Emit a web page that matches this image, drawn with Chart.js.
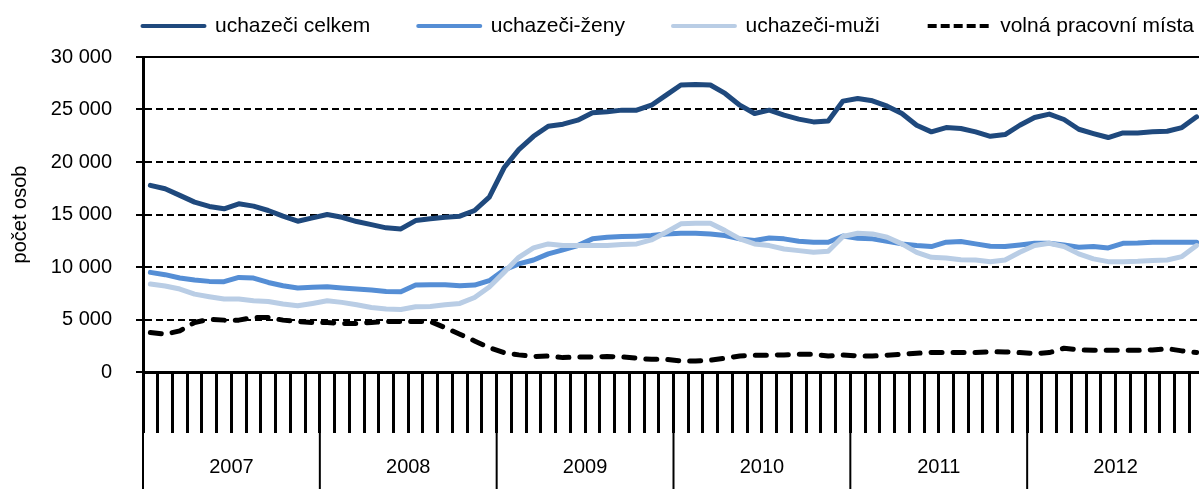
<!DOCTYPE html>
<html>
<head>
<meta charset="utf-8">
<script src="https://cdn.jsdelivr.net/npm/chart.js@4.4.0/dist/chart.umd.min.js"></script>
<style>
html,body{margin:0;padding:0;overflow:hidden;background:#fff;width:1199px;height:489px}
#wrap{position:absolute;left:0;top:0;width:1204px;height:489px}
</style>
</head>
<body>
<div id="wrap"><canvas id="c" width="1204" height="489"></canvas></div>
<script>
// ---- data ----
const years = ['2007','2008','2009','2010','2011','2012'];
const monthCodes = ['01','02','03','04','05','06','07','08','09','10','11','12'];
const categories = years.flatMap(y => monthCodes.map(m => y + '-' + m));
const yTicks = [0, 5000, 10000, 15000, 20000, 25000, 30000];
const seriesNames = ['uchazeči celkem', 'uchazeči-ženy', 'uchazeči-muži', 'volná pracovní místa'];

const celkem = [
  17770,17450,16820,16180,15770,15540,16020,15800,15380,14840,14360,14680,
  15000,14740,14330,14040,13730,13630,14420,14590,14740,14840,15380,16650,
  19450,21180,22450,23410,23600,23980,24680,24780,24940,24940,25410,26370,
  27330,27390,27330,26530,25410,24620,24940,24460,24080,23820,23910,25800,
  26050,25830,25320,24620,23500,22870,23280,23190,22870,22450,22610,23500,
  24240,24560,24050,23120,22710,22330,22770,22770,22870,22930,23280,24300
];
const zeny = [
  9490,9270,8950,8760,8630,8600,9010,8950,8530,8220,8000,8060,
  8120,8000,7900,7810,7670,7650,8280,8310,8310,8220,8280,8700,
  9720,10290,10670,11250,11630,12040,12680,12830,12900,12930,12990,13150,
  13220,13220,13150,12990,12680,12520,12770,12680,12450,12360,12360,12950,
  12740,12680,12450,12200,12040,11950,12360,12420,12200,11980,11950,12100,
  12260,12260,12100,11880,11950,11820,12260,12290,12360,12360,12360,12360
];
const muzi = [
  8380,8190,7900,7420,7170,6950,6950,6780,6720,6470,6310,6530,
  6780,6630,6400,6150,5990,5960,6210,6240,6400,6530,7100,8100,
  9490,10920,11820,12200,12040,12040,12040,12040,12140,12200,12580,13310,
  14110,14170,14170,13470,12680,12200,12040,11720,11560,11400,11500,12900,
  13220,13150,12830,12200,11400,10920,10860,10700,10670,10510,10670,11400,
  12040,12260,11950,11250,10770,10510,10510,10540,10610,10670,10990,12040
];
const volna = [
  3760,3600,3920,4710,5030,4940,4940,5190,5190,4940,4810,4710,
  4710,4620,4620,4710,4810,4810,4810,4810,4230,3600,2960,2320,
  1850,1630,1470,1530,1370,1440,1440,1470,1440,1310,1210,1210,
  1050,1050,1120,1310,1530,1600,1600,1630,1690,1690,1530,1630,
  1530,1530,1600,1690,1790,1850,1850,1850,1850,1940,1910,1850,
  1750,1850,2260,2100,2070,2070,2070,2070,2100,2230,2010,1850
];

// ---- styling ----
const FONT = '"Liberation Sans", Arial, sans-serif';
Chart.defaults.color = '#000';
Chart.defaults.font.family = FONT;

const fmt = v => String(v).replace(/\B(?=(\d{3})+(?!\d))/g, ' ');

const legendPlacer = {
  id: 'legendPlacer',
  afterInit(chart) {
    const lg = chart.legend;
    const origFit = lg.fit.bind(lg);
    lg.fit = function () { origFit(); this.height = 57; };
  },
  afterLayout(chart) {
    const lg = chart.legend;
    lg.left = 94.5;
    lg.right = 1400;
    lg.top = -32.5;
  }
};

const axisDecor = {
  id: 'axisDecor',
  beforeDatasetsDraw(chart) {
    const {ctx, chartArea, scales: {y}} = chart;
    const yt = y.getPixelForValue(yTicks[yTicks.length - 1]);
    ctx.save();
    ctx.strokeStyle = '#000';
    ctx.lineWidth = 2;
    ctx.beginPath();
    ctx.moveTo(chartArea.left, yt);
    ctx.lineTo(chartArea.right, yt);
    ctx.stroke();
    ctx.restore();
  },
  afterDraw(chart) {
    const {ctx, chartArea, scales: {x}} = chart;
    const half = (x.getPixelForValue(1) - x.getPixelForValue(0)) / 2;
    ctx.save();
    ctx.strokeStyle = '#000';
    ctx.lineWidth = 2;
    for (let k = 0; k <= years.length; k++) {
      const bx = k < years.length ? x.getPixelForValue(12 * k) - half : x.getPixelForValue(12 * k - 1) + half;
      ctx.beginPath();
      ctx.moveTo(bx, chartArea.bottom);
      ctx.lineTo(bx, chart.height);
      ctx.stroke();
    }
    ctx.fillStyle = '#000';
    ctx.font = '20px ' + FONT;
    ctx.textAlign = 'center';
    ctx.textBaseline = 'middle';
    years.forEach((yr, k) => {
      const cx = (x.getPixelForValue(12 * k + 5) + x.getPixelForValue(12 * k + 6)) / 2;
      ctx.fillText(yr, cx, 467);
    });
    ctx.restore();
  }
};

const lineBase = {pointRadius: 0, pointHoverRadius: 0, tension: 0, borderWidth: 5,
  borderJoinStyle: 'round', borderCapStyle: 'round', fill: false};

new Chart(document.getElementById('c'), {
  type: 'line',
  data: {
    labels: categories,
    datasets: [
      Object.assign({}, lineBase, {label: seriesNames[0], data: celkem, borderColor: '#1F497D', backgroundColor: '#1F497D', order: 4}),
      Object.assign({}, lineBase, {label: seriesNames[1], data: zeny, borderColor: '#558ED5', backgroundColor: '#558ED5', order: 3}),
      Object.assign({}, lineBase, {label: seriesNames[2], data: muzi, borderColor: '#B9CDE5', backgroundColor: '#B9CDE5', order: 2}),
      Object.assign({}, lineBase, {label: seriesNames[3], data: volna, borderColor: '#000', backgroundColor: '#000', borderDash: [11, 11], order: 1})
    ]
  },
  options: {
    responsive: false,
    animation: false,
    devicePixelRatio: 1,
    layout: {padding: 0},
    plugins: {
      tooltip: {enabled: false},
      legend: {
        position: 'top',
        align: 'start',
        labels: {
          usePointStyle: true,
          pointStyle: 'line',
          pointStyleWidth: 62,
          boxHeight: 5,
          padding: 48,
          color: '#000',
          font: {size: 21, family: FONT},
          sort: (a, b) => a.datasetIndex - b.datasetIndex,
          generateLabels(chart) {
            const items = Chart.defaults.plugins.legend.labels.generateLabels(chart);
            items.forEach(it => {
              it.lineWidth = 4;
              it.pointStyle = 'line';
              if (it.datasetIndex === 3) {
                it.lineDash = [9, 4];
                it.lineCap = 'butt';
              } else {
                it.lineCap = 'round';
              }
            });
            return items;
          }
        }
      }
    },
    scales: {
      x: {
        type: 'category',
        offset: true,
        grid: {offset: true, drawOnChartArea: false, color: '#000', tickColor: '#000',
               tickLength: 61, tickWidth: 3, lineWidth: 3},
        border: {display: true, color: '#000', width: 3},
        ticks: {display: false, autoSkip: false},
        afterFit(s) { s.height = 117; }
      },
      y: {
        min: 0,
        max: 30000,
        afterBuildTicks(s) { s.ticks = yTicks.map(v => ({value: v})); },
        ticks: {callback: v => fmt(v), font: {size: 20, family: FONT}, color: '#000', padding: 24},
        grid: {color: '#000', lineWidth: 2, tickLength: 7, tickColor: '#000', tickWidth: 2},
        border: {display: true, color: '#000', width: 3, dash: [7, 4]},
        title: {display: true, text: 'počet osob', font: {size: 20, family: FONT}, color: '#000',
                padding: {top: 8, bottom: 0}},
        afterFit(s) { s.width = 143; }
      }
    }
  },
  plugins: [legendPlacer, axisDecor]
});
</script>
</body>
</html>
